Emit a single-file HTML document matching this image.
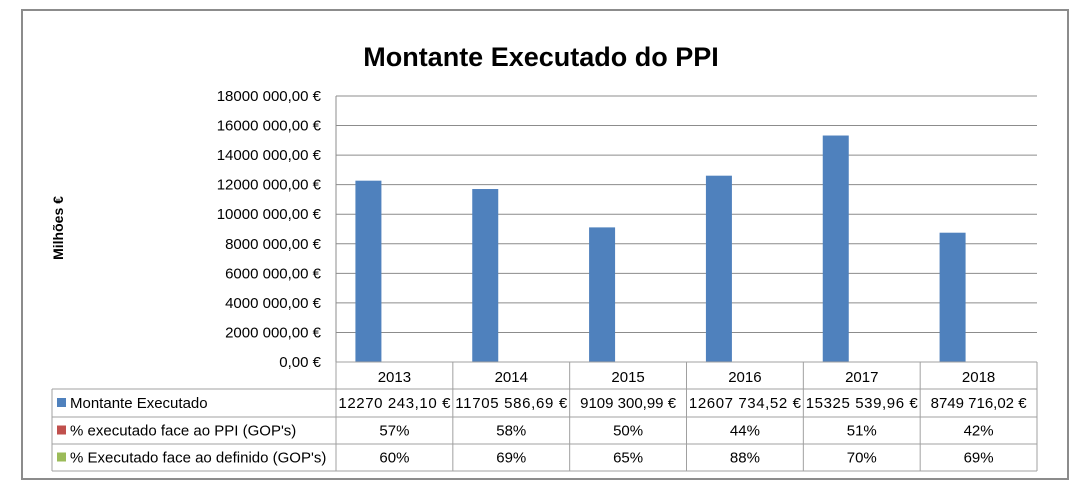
<!DOCTYPE html>
<html><head><meta charset="utf-8"><style>
body{margin:0;background:#fff;}
svg text{font-family:"Liberation Sans",sans-serif;}
</style></head><body>
<svg width="1077" height="488" id="c">
<rect x="22" y="10" width="1046" height="469" fill="#fff" stroke="#8c8c8c" stroke-width="2"/>
<text x="541" y="66" text-anchor="middle" font-size="27" font-weight="bold">Montante Executado do PPI</text>
<text transform="translate(63,228) rotate(-90)" text-anchor="middle" font-size="14" font-weight="bold">Milhões €</text>
<g id="grid"></g><g id="bars"></g><g id="tbl"></g>
</svg>
<script>
const categories=["2013","2014","2015","2016","2017","2018"];
const montante=[12270243.10,11705586.69,9109300.99,12607734.52,15325539.96,8749716.02];
const montanteLabels=["12270 243,10 €","11705 586,69 €","9109 300,99 €","12607 734,52 €","15325 539,96 €","8749 716,02 €"];
const pctPPI=["57%","58%","50%","44%","51%","42%"];
const pctDef=["60%","69%","65%","88%","70%","69%"];
const yTicks=[0,2000000,4000000,6000000,8000000,10000000,12000000,14000000,16000000,18000000];
const yTickLabels=["0,00 €","2000 000,00 €","4000 000,00 €","6000 000,00 €","8000 000,00 €","10000 000,00 €","12000 000,00 €","14000 000,00 €","16000 000,00 €","18000 000,00 €"];
const seriesNames=["Montante Executado","% executado face ao PPI (GOP's)","% Executado face ao definido (GOP's)"];
const seriesColors=["#4f81bd","#c0504d","#9bbb59"];
const NS="http://www.w3.org/2000/svg";
const X0=336,X1=1037,Y0=362,Y1=96,yMax=18000000;
const cw=(X1-X0)/categories.length;
const y=v=>Y0-(v/yMax)*(Y0-Y1);
const xc=i=>X0+cw*(i+0.5);
function mk(tag,attrs,parent,txt){const e=document.createElementNS(NS,tag);for(const k in attrs)e.setAttribute(k,attrs[k]);if(txt!==undefined)e.textContent=txt;parent.appendChild(e);return e;}
const g=document.getElementById('grid'),b=document.getElementById('bars'),t=document.getElementById('tbl');
yTicks.forEach((v,i)=>{
 const l=mk('line',{x1:X0,x2:X1,y1:y(v),y2:y(v),stroke:'#8c8c8c','stroke-width':1},g);
 
 
 const tx=mk('text',{x:321,y:y(v)+5,'text-anchor':'end','font-size':15},g,yTickLabels[i]);
 
 
});
mk('line',{x1:X0,x2:X0,y1:Y1,y2:Y0,stroke:'#8c8c8c'},g);
montante.forEach((v,i)=>{
 const r=mk('rect',{x:xc(i)-26-13,y:y(v),width:26,height:Y0-y(v),fill:seriesColors[0]},b);
 
 
});
// table
const rows=[389,417,444,471];
const st={stroke:'#a0a0a0','stroke-width':1};
mk('line',Object.assign({x1:X0,x2:X1,y1:Y0,y2:Y0},st),t);
rows.forEach(ry=>mk('line',Object.assign({x1:52,x2:X1,y1:ry,y2:ry},st),t));
mk('line',Object.assign({x1:52,x2:52,y1:389,y2:471},st),t);
for(let i=0;i<=categories.length;i++)mk('line',Object.assign({x1:X0+cw*i,x2:X0+cw*i,y1:Y0,y2:471},st),t);
categories.forEach((c,i)=>{
 const e=mk('text',{x:xc(i),y:382,'text-anchor':'middle','font-size':15},t,c);
 
 
});
const vals=[montanteLabels,pctPPI,pctDef];
vals.forEach((arr,r)=>{
 const cy=(rows[r]+rows[r+1])/2;
 const sw=mk('rect',{x:57,y:cy-5,width:9,height:9,fill:seriesColors[r]},t);
 
 
 const ln=mk('text',{x:70,y:cy+5,'font-size':15},t,seriesNames[r]);
 
 
 arr.forEach((s,i)=>{
  const e=mk('text',{x:xc(i),y:cy+5,'text-anchor':'middle','font-size':15,textLength:(r===0?Math.min(s.length*8.1,112):undefined)},t,s);
  if(r!==0||s.length*8.1<=112)e.removeAttribute('textLength');
  
  
 });
});
</script>
</body></html>
